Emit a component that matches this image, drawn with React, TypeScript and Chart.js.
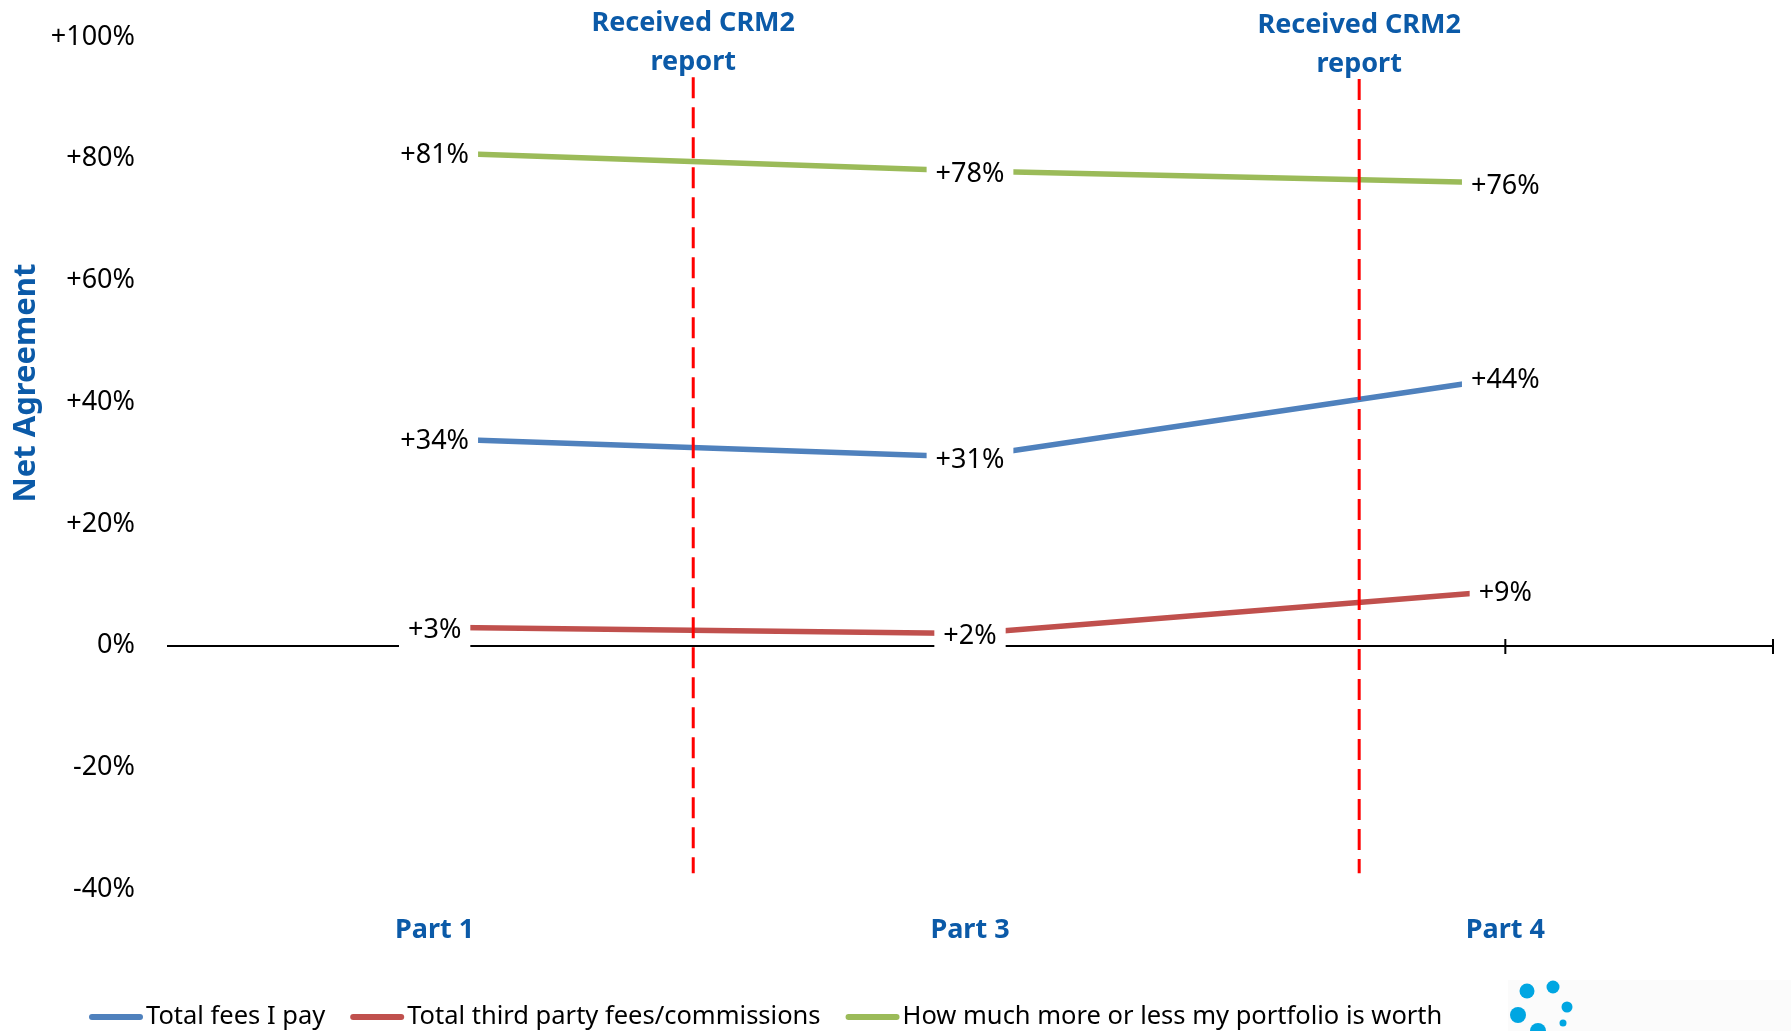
import React, { useEffect, useRef } from 'react';
import { Chart, registerables } from 'chart.js';

Chart.register(...registerables);

// ---- data ----
const categories = ['Part 1', 'Part 3', 'Part 4'];
const totalFees = [34, 31, 44];
const thirdPartyFees = [3, 2, 9];
const portfolioWorth = [81, 78, 76];
const seriesNames = [
  'Total fees I pay',
  'Total third party fees/commissions',
  'How much more or less my portfolio is worth',
];
const yTickLabels = ['-40%', '-20%', '0%', '+20%', '+40%', '+60%', '+80%', '+100%'];
// "Received CRM2 report" markers, as positions along the category index axis
const reportMarkers = [0.483, 1.727];
const reportMarkerTop = [93.4, 93.1];
const reportMarkerBottom = -37.4;
const reportLabelLines = ['Received CRM2', 'report'];
const yAxisTitle = 'Net Agreement';

// ---- styles ----
const FONT = '"Noto Sans", "Open Sans", sans-serif';
const TEXT_BLUE = '#0B5AA8';
const BLUE = '#4F81BD';
const RED = '#C0504D';
const GREEN = '#9BBB59';
const MARKER_RED = '#FF0000';

const fmt = (v: number) => (v > 0 ? '+' + v + '%' : v + '%');

const zeroAxisPlugin = {
  id: 'zeroAxis',
  beforeDatasetsDraw(chart: any) {
    const { ctx, chartArea, scales } = chart;
    const y = Math.round(scales.y.getPixelForValue(0));
    ctx.save();
    ctx.strokeStyle = '#000';
    ctx.lineWidth = 2;
    ctx.beginPath();
    ctx.moveTo(chartArea.left, y);
    ctx.lineTo(chartArea.right, y);
    const tickXs = categories.map((_, i) => scales.x.getPixelForValue(i));
    tickXs.push(chartArea.right);
    tickXs.forEach((x: number) => {
      ctx.moveTo(x, y - 7);
      ctx.lineTo(x, y + 8);
    });
    ctx.stroke();
    ctx.restore();
  },
};

const markersPlugin = {
  id: 'reportMarkers',
  afterDatasetsDraw(chart: any) {
    const { ctx, scales } = chart;
    ctx.save();
    reportMarkers.forEach((m, k) => {
      const x = scales.x.getPixelForValue(m);
      const yTop = scales.y.getPixelForValue(reportMarkerTop[k]);
      const yBot = scales.y.getPixelForValue(reportMarkerBottom);
      ctx.strokeStyle = MARKER_RED;
      ctx.lineWidth = 3;
      ctx.setLineDash([21, 9]);
      ctx.beginPath();
      ctx.moveTo(x, yTop);
      ctx.lineTo(x, yBot);
      ctx.stroke();
      ctx.setLineDash([]);
      ctx.fillStyle = TEXT_BLUE;
      ctx.font = `bold 27px ${FONT}`;
      ctx.textAlign = 'center';
      ctx.textBaseline = 'middle';
      ctx.fillText(reportLabelLines[0], x, yTop - 54);
      ctx.fillText(reportLabelLines[1], x, yTop - 15);
    });
    ctx.restore();
  },
};

const labelsPlugin = {
  id: 'valueLabels',
  afterDatasetsDraw(chart: any) {
    const { ctx } = chart;
    ctx.save();
    ctx.font = `27px ${FONT}`;
    ctx.textAlign = 'center';
    ctx.textBaseline = 'middle';
    chart.data.datasets.forEach((ds: any, di: number) => {
      const meta = chart.getDatasetMeta(di);
      meta.data.forEach((pt: any, i: number) => {
        const text = fmt(ds.data[i]);
        const w = ctx.measureText(text).width;
        const cy = pt.y + 3;
        ctx.fillStyle = '#fff';
        ctx.fillRect(pt.x - w / 2 - 9, cy - 20, w + 18, 45);
        ctx.fillStyle = '#000';
        ctx.fillText(text, pt.x, cy);
      });
    });
    ctx.restore();
  },
};

const decorPlugin = {
  id: 'decor',
  afterDraw(chart: any) {
    const { ctx } = chart;
    ctx.save();
    // legend
    ctx.font = `25.5px ${FONT}`;
    ctx.textAlign = 'left';
    ctx.textBaseline = 'middle';
    let x = 89;
    const ly = 1017;
    chart.data.datasets.forEach((ds: any) => {
      ctx.strokeStyle = ds.borderColor;
      ctx.lineWidth = 6;
      ctx.lineCap = 'round';
      ctx.beginPath();
      ctx.moveTo(x + 3, ly);
      ctx.lineTo(x + 51, ly);
      ctx.stroke();
      ctx.fillStyle = '#000';
      ctx.fillText(ds.label, x + 57, ly);
      x += 57 + ctx.measureText(ds.label).width + 25;
    });
    // y axis title
    ctx.save();
    ctx.translate(26, 383);
    ctx.rotate(-Math.PI / 2);
    ctx.font = `bold 31px ${FONT}`;
    ctx.fillStyle = TEXT_BLUE;
    ctx.textAlign = 'center';
    ctx.textBaseline = 'middle';
    ctx.fillText(yAxisTitle, 0, 0);
    ctx.restore();
    // corner logo fragment
    ctx.fillStyle = '#FBFBFB';
    ctx.fillRect(1508, 980, 283, 51);
    ctx.fillStyle = '#00A6E2';
    const dots = [
      [1527, 991, 7.5],
      [1553, 987, 6.5],
      [1567, 1007, 5.5],
      [1518, 1015, 8],
      [1563, 1023, 3.5],
      [1538, 1031, 8],
    ];
    dots.forEach(([dx, dy, r]) => {
      ctx.beginPath();
      ctx.arc(dx, dy, r, 0, Math.PI * 2);
      ctx.fill();
    });
    ctx.restore();
  },
};

export default function App() {
  const ref = useRef<HTMLCanvasElement>(null);
  useEffect(() => {
    document.body.style.margin = '0';
    const canvas = ref.current!;
    const mk = (label: string, data: number[], color: string) => ({
      label,
      data,
      borderColor: color,
      backgroundColor: color,
      borderWidth: 5.5,
      pointRadius: 0,
      pointHoverRadius: 0,
      tension: 0,
      fill: false,
    });
    const chart = new Chart(canvas, {
      type: 'line',
      data: {
        labels: categories,
        datasets: [
          mk(seriesNames[0], totalFees, BLUE),
          mk(seriesNames[1], thirdPartyFees, RED),
          mk(seriesNames[2], portfolioWorth, GREEN),
        ],
      },
      options: {
        animation: false,
        responsive: false,
        devicePixelRatio: 1,
        layout: { padding: { top: 37, right: 18, left: 0, bottom: 0 } },
        plugins: { legend: { display: false }, tooltip: { enabled: false } },
        scales: {
          x: {
            type: 'category',
            offset: true,
            grid: { display: false, drawTicks: false },
            border: { display: false },
            ticks: {
              color: TEXT_BLUE,
              font: { family: FONT, size: 27, weight: 'bold' },
              padding: 25,
              maxRotation: 0,
              autoSkip: false,
            },
            afterFit: (s: any) => {
              s.height = 142;
              s.paddingLeft = 0;
              s.paddingRight = 0;
            },
          },
          y: {
            min: -40,
            max: 100,
            ticks: {
              stepSize: 20,
              callback: (_v: any, i: number) => yTickLabels[i],
              color: '#000',
              font: { family: FONT, size: 27 },
              padding: 32,
            },
            grid: { display: false, drawTicks: false },
            border: { display: false },
            afterFit: (s: any) => {
              s.width = 167;
              s.paddingTop = 0;
              s.paddingBottom = 0;
            },
          },
        },
      } as any,
      plugins: [zeroAxisPlugin, markersPlugin, labelsPlugin, decorPlugin],
    });
    return () => chart.destroy();
  }, []);
  return <canvas ref={ref} width={1791} height={1031} style={{ display: 'block' }} />;
}
